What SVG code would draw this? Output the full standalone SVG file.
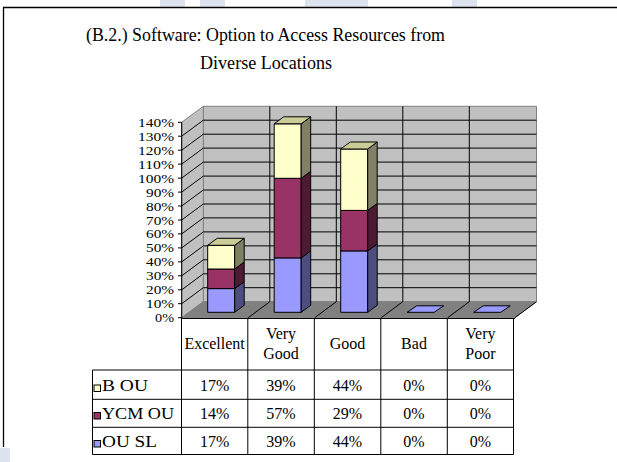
<svg xmlns="http://www.w3.org/2000/svg" width="617" height="462" viewBox="0 0 617 462">
<style>
text{font-family:"Liberation Serif","Times New Roman",serif;fill:#000}
.t{font-size:18px;text-anchor:middle}
.ax{font-size:13.5px;text-anchor:end}
.c{font-size:16px;text-anchor:middle}
.lg{font-size:17px}
.grid{stroke:#000;stroke-width:1;fill:none}
.wall{fill:#c0c0c0;stroke:#808080;stroke-width:1}
.bar{stroke:#000;stroke-width:1;stroke-linejoin:round}
.blueF{fill:#9999ff}.blueS{fill:#4d4d80}
.purF{fill:#993366}.purS{fill:#4d1a33}
.yelF{fill:#ffffcc}.yelS{fill:#808066}.yelT{fill:#cccc99}
.tb{stroke:#000;stroke-width:1;fill:none}
.wm{fill:#dce3ef}
</style>
<rect width="617" height="462" fill="#fff"/>
<g id="watermark">
<rect class="wm" x="160" y="0" width="25" height="7"/>
<rect class="wm" x="200" y="0" width="25" height="7"/>
<rect class="wm" x="305" y="0" width="63" height="7"/>
<rect class="wm" x="452" y="0" width="25" height="7"/>
<rect class="wm" x="0" y="448" width="10" height="14"/>
</g>
<g id="frame" fill="none" stroke="#000" stroke-width="1.3">
<path d="M3.5 447 V7.5 H617"/>
</g>
<g id="title">
<text class="t" x="265.5" y="41" textLength="359" lengthAdjust="spacingAndGlyphs">(B.2.) Software: Option to Access Resources from</text>
<text class="t" x="266" y="68.5" textLength="132" lengthAdjust="spacingAndGlyphs">Diverse Locations</text>
</g>
<g id="walls">
<polygon class="wall" points="203.3,106.3 536.5,106.3 536.5,301.7 203.3,301.7"/>
<polygon class="wall" points="181.7,122.3 203.3,106.3 203.3,301.7 181.7,317.7"/>
<polygon fill="#808080" stroke="#808080" points="181.7,317.7 203.3,301.7 536.5,301.7 514.9,317.7"/>
</g>
<g id="gridlines" class="grid">
<path d="M203.3 287.7H536.5M203.3 273.8H536.5M203.3 259.8H536.5M203.3 245.9H536.5M203.3 231.9H536.5M203.3 217.9H536.5M203.3 204H536.5M203.3 190H536.5M203.3 176.1H536.5M203.3 162.1H536.5M203.3 148.1H536.5M203.3 134.2H536.5M203.3 120.2H536.5"/>
<path d="M181.7 303.7L203.3 287.7M181.7 289.8L203.3 273.8M181.7 275.8L203.3 259.8M181.7 261.9L203.3 245.9M181.7 247.9L203.3 231.9M181.7 233.9L203.3 217.9M181.7 220L203.3 204M181.7 206L203.3 190M181.7 192.1L203.3 176.1M181.7 178.1L203.3 162.1M181.7 164.1L203.3 148.1M181.7 150.2L203.3 134.2M181.7 136.2L203.3 120.2"/>
<path d="M269.8 106.3V301.7M336.3 106.3V301.7M402.8 106.3V301.7M469.3 106.3V301.7"/>
<path d="M248.2 317.7L269.8 301.7M314.7 317.7L336.3 301.7M381.2 317.7L402.8 301.7M447.7 317.7L469.3 301.7M514.9 317.7L536.5 301.7"/>
</g>
<g id="axis">
<path d="M181.7 122.3V318" stroke="#000" stroke-width="1"/>
<path d="M178 122.3H181.7M178 136.2H181.7M178 150.2H181.7M178 164.1H181.7M178 178.1H181.7M178 192.1H181.7M178 206H181.7M178 220H181.7M178 233.9H181.7M178 247.9H181.7M178 261.9H181.7M178 275.8H181.7M178 289.8H181.7M178 303.7H181.7M178 317.7H181.7" stroke="#000" stroke-width="1"/>
<text class="ax" x="174" y="126.8" textLength="36" lengthAdjust="spacingAndGlyphs">140%</text>
<text class="ax" x="174" y="140.7" textLength="36" lengthAdjust="spacingAndGlyphs">130%</text>
<text class="ax" x="174" y="154.7" textLength="36" lengthAdjust="spacingAndGlyphs">120%</text>
<text class="ax" x="174" y="168.6" textLength="36" lengthAdjust="spacingAndGlyphs">110%</text>
<text class="ax" x="174" y="182.6" textLength="36" lengthAdjust="spacingAndGlyphs">100%</text>
<text class="ax" x="174" y="196.6" textLength="28" lengthAdjust="spacingAndGlyphs">90%</text>
<text class="ax" x="174" y="210.5" textLength="28" lengthAdjust="spacingAndGlyphs">80%</text>
<text class="ax" x="174" y="224.5" textLength="28" lengthAdjust="spacingAndGlyphs">70%</text>
<text class="ax" x="174" y="238.4" textLength="28" lengthAdjust="spacingAndGlyphs">60%</text>
<text class="ax" x="174" y="252.4" textLength="28" lengthAdjust="spacingAndGlyphs">50%</text>
<text class="ax" x="174" y="266.4" textLength="28" lengthAdjust="spacingAndGlyphs">40%</text>
<text class="ax" x="174" y="280.3" textLength="28" lengthAdjust="spacingAndGlyphs">30%</text>
<text class="ax" x="174" y="294.3" textLength="28" lengthAdjust="spacingAndGlyphs">20%</text>
<text class="ax" x="174" y="308.2" textLength="28" lengthAdjust="spacingAndGlyphs">10%</text>
<text class="ax" x="174" y="322.2" textLength="19" lengthAdjust="spacingAndGlyphs">0%</text>
</g>
<g id="bar-excellent" class="bar">
<rect class="blueF" x="207.7" y="288.6" width="27" height="23.7"/>
<polygon class="blueS" points="234.7,288.6 244.2,281.6 244.2,305.3 234.7,312.3"/>
<rect class="purF" x="207.7" y="269" width="27" height="19.6"/>
<polygon class="purS" points="234.7,269 244.2,262 244.2,281.6 234.7,288.6"/>
<rect class="yelF" x="207.7" y="245.3" width="27" height="23.7"/>
<polygon class="yelS" points="234.7,245.3 244.2,238.3 244.2,262 234.7,269"/>
<polygon class="yelT" points="207.7,245.3 217.2,238.3 244.2,238.3 234.7,245.3"/>
</g>
<g id="bar-very-good" class="bar">
<rect class="blueF" x="274.2" y="257.9" width="27" height="54.4"/>
<polygon class="blueS" points="301.2,257.9 310.7,250.9 310.7,305.3 301.2,312.3"/>
<rect class="purF" x="274.2" y="178.3" width="27" height="79.6"/>
<polygon class="purS" points="301.2,178.3 310.7,171.3 310.7,250.9 301.2,257.9"/>
<rect class="yelF" x="274.2" y="123.8" width="27" height="54.5"/>
<polygon class="yelS" points="301.2,123.8 310.7,116.8 310.7,171.3 301.2,178.3"/>
<polygon class="yelT" points="274.2,123.8 283.7,116.8 310.7,116.8 301.2,123.8"/>
</g>
<g id="bar-good" class="bar">
<rect class="blueF" x="340.7" y="250.9" width="27" height="61.4"/>
<polygon class="blueS" points="367.7,250.9 377.2,243.9 377.2,305.3 367.7,312.3"/>
<rect class="purF" x="340.7" y="210.4" width="27" height="40.5"/>
<polygon class="purS" points="367.7,210.4 377.2,203.4 377.2,243.9 367.7,250.9"/>
<rect class="yelF" x="340.7" y="149" width="27" height="61.4"/>
<polygon class="yelS" points="367.7,149 377.2,142 377.2,203.4 367.7,210.4"/>
<polygon class="yelT" points="340.7,149 350.2,142 377.2,142 367.7,149"/>
</g>
<g id="bar-bad" class="bar">
<polygon class="blueF" points="407.2,312.3 434.2,312.3 443.7,305.8 416.7,305.8"/>
</g>
<g id="bar-very-poor" class="bar">
<polygon class="blueF" points="473.7,312.3 500.7,312.3 510.2,305.8 483.2,305.8"/>
</g>
<g id="table">
<path class="tb" d="M181.5 318.5H514.9" stroke-width="1.6"/>
<path class="tb" d="M92.5 370H513.5M92.5 399.3H513.5M92.5 427.3H513.5M92.5 454.5H513.5"/>
<path class="tb" d="M92.5 370V454.5M181.5 318V454.5M247.8 318V454.5M314.3 318V454.5M380.8 318V454.5M447.3 318V454.5M513.5 318V454.5"/>
<text class="c" x="214.6" y="348.5">Excellent</text>
<text class="c" x="281" y="338.5">Very</text>
<text class="c" x="281" y="358.5">Good</text>
<text class="c" x="347.5" y="348.5">Good</text>
<text class="c" x="414" y="348.5">Bad</text>
<text class="c" x="480.4" y="338.5">Very</text>
<text class="c" x="480.4" y="358.5">Poor</text>
<rect x="94" y="385" width="6.5" height="6.5" fill="#ffffcc" stroke="#000"/>
<text class="lg" x="102" y="391" textLength="46" lengthAdjust="spacingAndGlyphs">B OU</text>
<rect x="94" y="412.5" width="6.5" height="6.5" fill="#993366" stroke="#000"/>
<text class="lg" x="102" y="418.5" textLength="72" lengthAdjust="spacingAndGlyphs">YCM OU</text>
<rect x="94" y="440.5" width="6.5" height="6.5" fill="#9999ff" stroke="#000"/>
<text class="lg" x="102" y="446.7" textLength="55" lengthAdjust="spacingAndGlyphs">OU SL</text>
<text class="c" x="214.6" y="391">17%</text>
<text class="c" x="281" y="391">39%</text>
<text class="c" x="347.5" y="391">44%</text>
<text class="c" x="414" y="391">0%</text>
<text class="c" x="480.4" y="391">0%</text>
<text class="c" x="214.6" y="418.5">14%</text>
<text class="c" x="281" y="418.5">57%</text>
<text class="c" x="347.5" y="418.5">29%</text>
<text class="c" x="414" y="418.5">0%</text>
<text class="c" x="480.4" y="418.5">0%</text>
<text class="c" x="214.6" y="446.7">17%</text>
<text class="c" x="281" y="446.7">39%</text>
<text class="c" x="347.5" y="446.7">44%</text>
<text class="c" x="414" y="446.7">0%</text>
<text class="c" x="480.4" y="446.7">0%</text>
</g>
</svg>
